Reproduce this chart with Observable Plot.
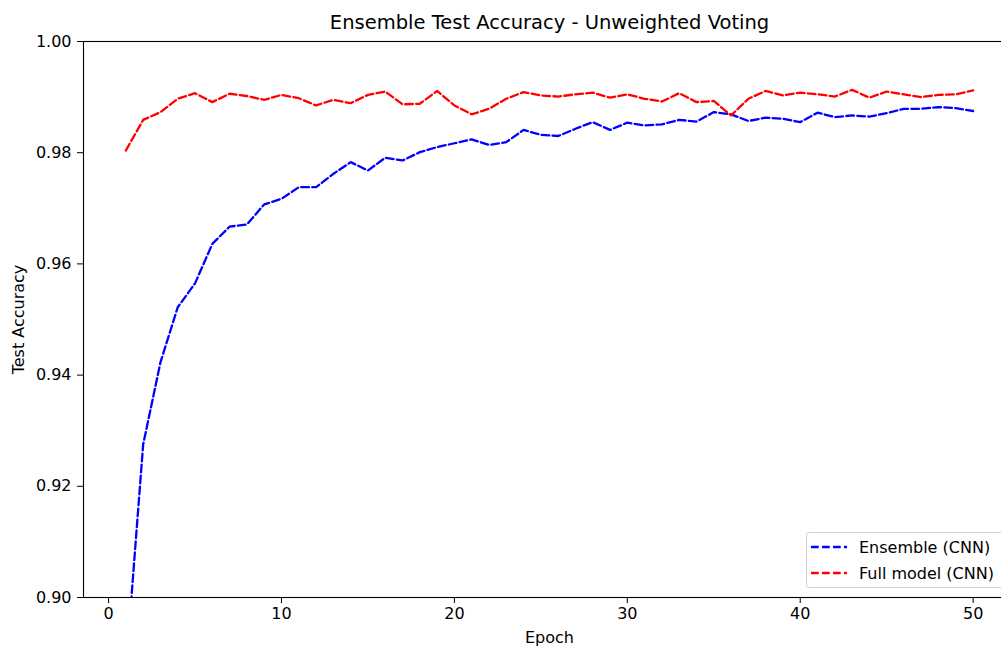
<!DOCTYPE html>
<html>
<head>
<meta charset="utf-8">
<script src="https://cdn.jsdelivr.net/npm/d3@7"></script>
<script src="https://cdn.jsdelivr.net/npm/@observablehq/plot@0.6"></script>
<style>
  html, body { margin: 0; padding: 0; background: #fff; overflow: hidden; }
  #wrap { position: relative; width: 1001px; height: 648px; overflow: hidden; font-family: "DejaVu Sans", sans-serif; }
  #wrap > svg { max-width: none !important; display: block; }
  #legend { position: absolute; left: 806px; top: 532px; width: 230px; height: 56px; border: 1px solid #d0d0d0; border-radius: 3px; background: rgba(255,255,255,0.85); box-sizing: border-box; }
  .row { position: absolute; left: 0; height: 22px; display: flex; align-items: center; font-size: 16px; color: #000; white-space: nowrap; }
  .row svg { margin-left: 4px; margin-right: 12px; }
</style>
</head>
<body>
<div id="wrap"></div>
<script>
const epochs = d3.range(1, 51);
const ensemble = [0.887, 0.9275, 0.9423, 0.9522, 0.9565, 0.9636, 0.9667, 0.9671, 0.9707, 0.9717,
  0.9738, 0.9738, 0.9762, 0.9783, 0.9768, 0.9791, 0.9786, 0.9801, 0.981, 0.9817,
  0.9824, 0.9814, 0.9819, 0.9841, 0.9832, 0.983, 0.9843, 0.9855, 0.9841, 0.9854,
  0.9849, 0.9851, 0.9859, 0.9856, 0.9873, 0.9869, 0.9857, 0.9863, 0.9861, 0.9855,
  0.9872, 0.9864, 0.9867, 0.9865, 0.9871, 0.9879, 0.9879, 0.9882, 0.988, 0.9875];
const fullModel = [0.9804, 0.9859, 0.9873, 0.9897, 0.9907, 0.9891, 0.9906, 0.9902, 0.9895, 0.9904,
  0.9898, 0.9885, 0.9895, 0.9889, 0.9904, 0.991, 0.9887, 0.9888, 0.9911, 0.9885,
  0.9869, 0.9879, 0.9897, 0.9909, 0.9903, 0.9901, 0.9905, 0.9908, 0.9899, 0.9905,
  0.9897, 0.9892, 0.9907, 0.9891, 0.9893, 0.9867, 0.9897, 0.9911, 0.9903, 0.9908,
  0.9905, 0.9901, 0.9913, 0.9899, 0.991, 0.9905, 0.99, 0.9904, 0.9905, 0.9912];
const seriesNames = ["Ensemble (CNN)", "Full model (CNN)"];
const seriesColors = ["blue", "red"];
const xTicks = [0, 10, 20, 30, 40, 50];
const yTicks = [0.90, 0.92, 0.94, 0.96, 0.98, 1.00];
const title = "Ensemble Test Accuracy - Unweighted Voting";
const xLabel = "Epoch";
const yLabel = "Test Accuracy";

const rows = [];
epochs.forEach((e, i) => rows.push({epoch: e, acc: ensemble[i], series: seriesNames[0]}));
epochs.forEach((e, i) => rows.push({epoch: e, acc: fullModel[i], series: seriesNames[1]}));

const dash = "7.7,3.3";
const lw = 2.3;

const chart = Plot.plot({
  width: 1016,
  height: 648,
  marginLeft: 83,
  marginRight: 1,
  marginTop: 41,
  marginBottom: 51,
  style: {fontFamily: "DejaVu Sans, sans-serif", background: "transparent", color: "#000", maxWidth: "none"},
  x: {domain: [-1.45, 52.45]},
  y: {domain: [0.9, 1.0]},
  color: {domain: seriesNames, range: seriesColors},
  marks: [
    Plot.line(rows, {x: "epoch", y: "acc", stroke: "series", z: "series", strokeWidth: lw, strokeDasharray: dash, clip: true, curve: "linear"}),
    Plot.frame({stroke: "#000", strokeWidth: 1.1}),
    Plot.axisX({ticks: xTicks, tickFormat: d => String(d), tickSize: 6, tickPadding: 4, fontSize: 16, label: null, stroke: "#000"}),
    Plot.axisY({ticks: yTicks, tickFormat: d3.format(".2f"), tickSize: 6, tickPadding: 6, fontSize: 16, label: null, stroke: "#000"}),
    Plot.text([xLabel], {text: d => d, frameAnchor: "bottom", dy: 40, lineAnchor: "middle", fontSize: 16, fill: "#000"}),
    Plot.text([yLabel], {text: d => d, frameAnchor: "left", dx: -65, rotate: -90, textAnchor: "middle", lineAnchor: "middle", fontSize: 16, fill: "#000"}),
    Plot.text([title], {text: d => d, frameAnchor: "top", dy: -19, lineAnchor: "middle", fontSize: 19.5, fill: "#000"})
  ]
});

const wrap = document.getElementById("wrap");
wrap.appendChild(chart);

const legend = document.createElement("div");
legend.id = "legend";
seriesNames.forEach((name, i) => {
  const row = document.createElement("div");
  row.className = "row";
  row.style.top = (i === 0 ? 3 : 29) + "px";
  row.innerHTML = `<svg width="36" height="6"><line x1="0" y1="3" x2="36" y2="3" stroke="${seriesColors[i]}" stroke-width="${lw}" stroke-dasharray="${dash}"/></svg><span>${name}</span>`;
  legend.appendChild(row);
});
wrap.appendChild(legend);
</script>
</body>
</html>
